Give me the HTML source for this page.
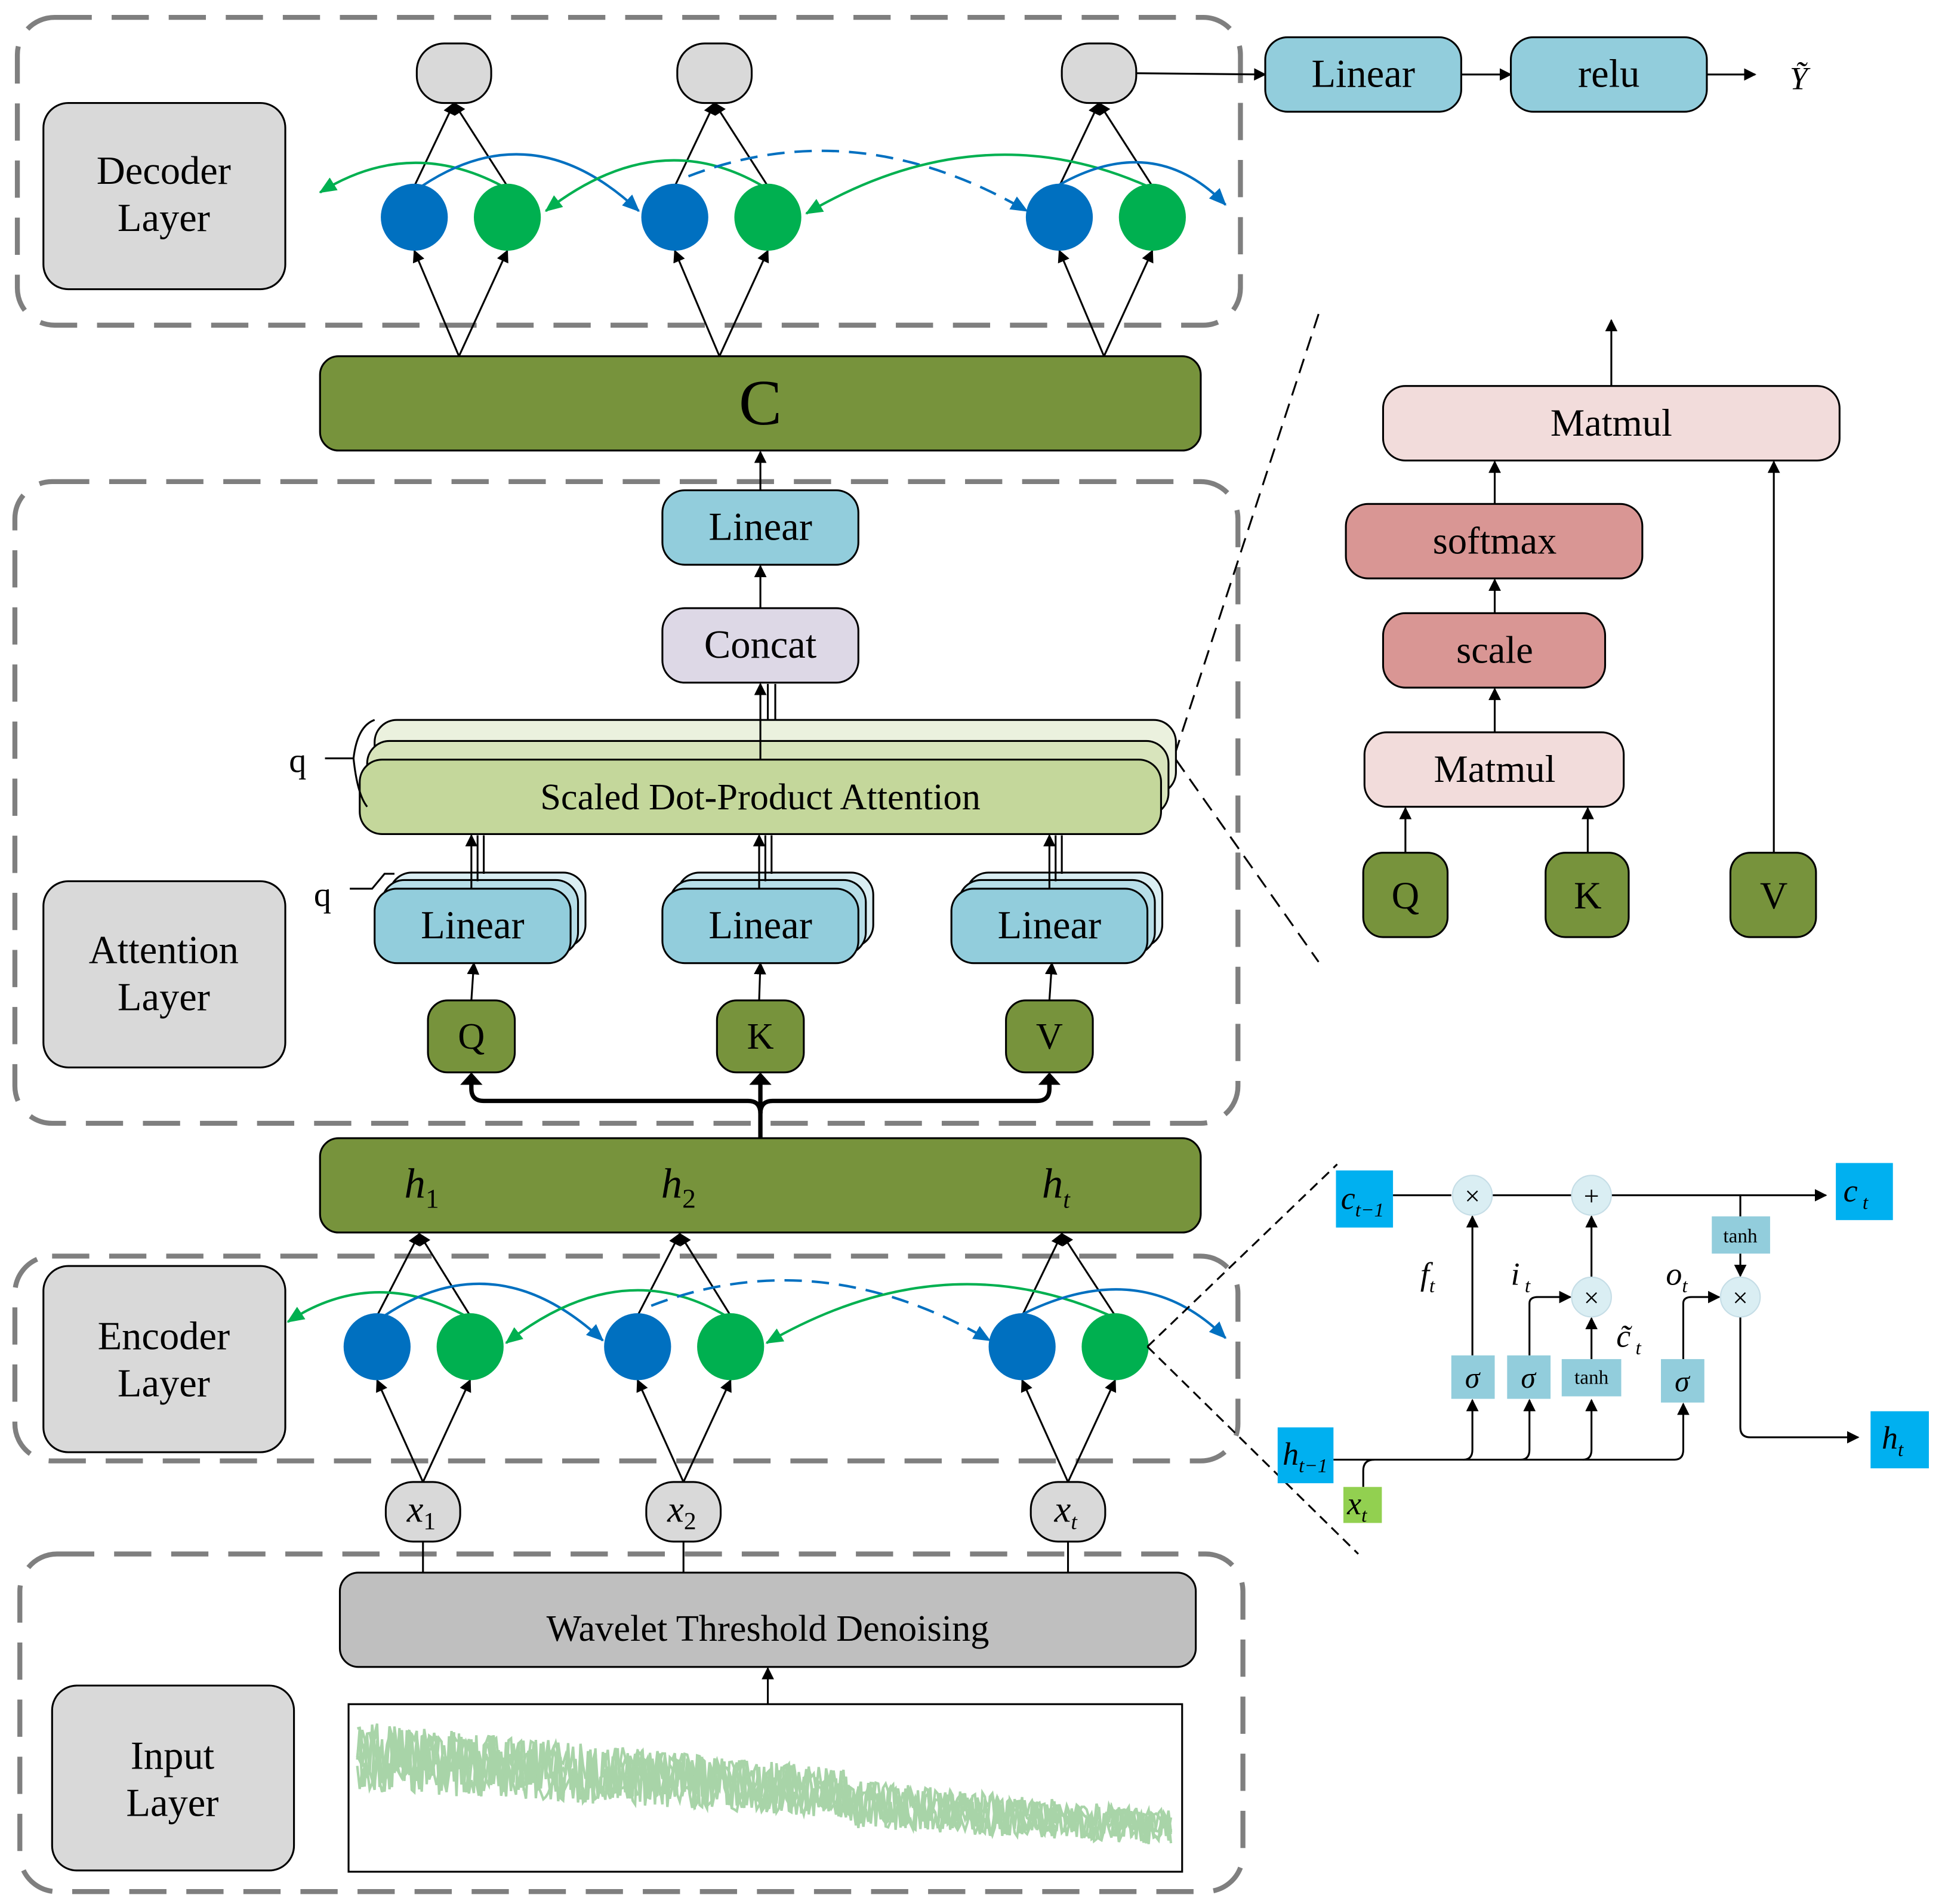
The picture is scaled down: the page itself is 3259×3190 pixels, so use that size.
<!DOCTYPE html>
<html><head><meta charset="utf-8"><style>
html,body{margin:0;padding:0;background:#fff}
svg{display:block}
text{font-family:"Liberation Serif",serif;fill:#000}
</style></head><body>
<svg id="s" width="3259" height="3190" viewBox="0 0 1568 1534" preserveAspectRatio="none" xmlns="http://www.w3.org/2000/svg">
<defs>
<marker id="a" markerWidth="10" markerHeight="10" refX="9" refY="5" orient="auto" markerUnits="userSpaceOnUse"><path d="M0,0 L10,5 L0,10 z" fill="#000"/></marker>
<marker id="ab" markerWidth="14" markerHeight="12" refX="13" refY="6" orient="auto" markerUnits="userSpaceOnUse"><path d="M0,0 L14,6 L0,12 z" fill="#0070c0"/></marker>
<marker id="ag" markerWidth="14" markerHeight="12" refX="13" refY="6" orient="auto" markerUnits="userSpaceOnUse"><path d="M0,0 L14,6 L0,12 z" fill="#00b050"/></marker>
</defs>
<g fill="none" stroke="#7f7f7f" stroke-width="4" stroke-dasharray="30,16">
<rect x="14" y="14" width="986" height="248" rx="30"/>
<rect x="12" y="388" width="986" height="517" rx="30"/>
<rect x="12" y="1012" width="986" height="165" rx="30"/>
<rect x="16" y="1252" width="986" height="272" rx="30"/>
</g>
<g stroke="#000" stroke-width="1.5">
<rect x="35" y="83" width="195" height="150" rx="20" fill="#d9d9d9"/>
<rect x="35" y="710" width="195" height="150" rx="20" fill="#d9d9d9"/>
<rect x="35" y="1020" width="195" height="150" rx="20" fill="#d9d9d9"/>
<rect x="42" y="1358" width="195" height="149" rx="20" fill="#d9d9d9"/>
</g>
<g font-size="32" text-anchor="middle">
<text x="132" y="148">Decoder</text><text x="132" y="186">Layer</text>
<text x="132" y="776">Attention</text><text x="132" y="814">Layer</text>
<text x="132" y="1087">Encoder</text><text x="132" y="1125">Layer</text>
<text x="139" y="1425">Input</text><text x="139" y="1463">Layer</text>
</g>
<g stroke="#000" stroke-width="1.5" marker-end="url(#a)">
<line x1="334" y1="150" x2="366" y2="83"/><line x1="409" y1="150" x2="366" y2="83"/>
<line x1="544" y1="150" x2="576" y2="83"/><line x1="619" y1="150" x2="576" y2="83"/>
<line x1="854" y1="150" x2="886" y2="83"/><line x1="929" y1="150" x2="886" y2="83"/>
<line x1="370" y1="287" x2="334" y2="202"/><line x1="370" y1="287" x2="409" y2="202"/>
<line x1="580" y1="287" x2="544" y2="202"/><line x1="580" y1="287" x2="619" y2="202"/>
<line x1="890" y1="287" x2="854" y2="202"/><line x1="890" y1="287" x2="929" y2="202"/>
</g>
<g stroke="#000" stroke-width="1.5" fill="#d9d9d9">
<rect x="336" y="35" width="60" height="48" rx="22"/><rect x="546" y="35" width="60" height="48" rx="22"/><rect x="856" y="35" width="60" height="48" rx="22"/>
</g>
<g fill="#0070c0"><circle cx="334" cy="175" r="27"/><circle cx="544" cy="175" r="27"/><circle cx="854" cy="175" r="27"/></g>
<g fill="#00b050"><circle cx="409" cy="175" r="27"/><circle cx="619" cy="175" r="27"/><circle cx="929" cy="175" r="27"/></g>
<g fill="none" stroke-width="2">
<path d="M405 150 Q330 110 258 155" stroke="#00b050" marker-end="url(#ag)"/>
<path d="M340 150 Q430 90 515 170" stroke="#0070c0" marker-end="url(#ab)"/>
<path d="M615 150 Q530 100 440 170" stroke="#00b050" marker-end="url(#ag)"/>
<path d="M555 142 Q690 90 828 170" stroke="#0070c0" stroke-dasharray="14,8" marker-end="url(#ab)"/>
<path d="M925 150 Q790 90 650 172" stroke="#00b050" marker-end="url(#ag)"/>
<path d="M852 150 Q930 105 988 165" stroke="#0070c0" marker-end="url(#ab)"/>
</g>
<line x1="916" y1="59" x2="1020" y2="60" stroke="#000" stroke-width="1.5" marker-end="url(#a)"/>
<rect x="1020" y="30" width="158" height="60" rx="18" fill="#92cddc" stroke="#000" stroke-width="1.5"/>
<text x="1099" y="70" font-size="32" text-anchor="middle">Linear</text>
<line x1="1178" y1="60" x2="1218" y2="60" stroke="#000" stroke-width="1.5" marker-end="url(#a)"/>
<rect x="1218" y="30" width="158" height="60" rx="18" fill="#92cddc" stroke="#000" stroke-width="1.5"/>
<text x="1297" y="70" font-size="32" text-anchor="middle">relu</text>
<line x1="1376" y1="60" x2="1415" y2="60" stroke="#000" stroke-width="1.5" marker-end="url(#a)"/>
<text x="1450" y="72" font-size="26" font-style="italic" text-anchor="middle">Ỹ</text>
<rect x="258" y="287" width="710" height="76" rx="15" fill="#77933c" stroke="#000" stroke-width="1.5"/>
<text x="613" y="342" font-size="52" text-anchor="middle">C</text>
<g stroke="#000" stroke-width="1.5" fill="none">
<line x1="613" y1="395" x2="613" y2="364" marker-end="url(#a)"/>
<line x1="613" y1="490" x2="613" y2="456" marker-end="url(#a)"/>
<line x1="613" y1="612" x2="613" y2="551" marker-end="url(#a)"/>
<line x1="619" y1="612" x2="619" y2="551"/><line x1="625" y1="597" x2="625" y2="551"/>
</g>
<rect x="534" y="395" width="158" height="60" rx="18" fill="#92cddc" stroke="#000" stroke-width="1.5"/>
<text x="613" y="435" font-size="32" text-anchor="middle">Linear</text>
<rect x="534" y="490" width="158" height="60" rx="18" fill="#ddd8e6" stroke="#000" stroke-width="1.5"/>
<text x="613" y="530" font-size="32" text-anchor="middle">Concat</text>
<g stroke="#000" stroke-width="1.5">
<rect x="302" y="580" width="646" height="60" rx="18" fill="#ebf1de"/>
<rect x="296" y="597" width="646" height="60" rx="18" fill="#d8e4bc"/>
<rect x="290" y="612" width="646" height="60" rx="18" fill="#c4d79b"/>
</g>
<line x1="613" y1="612" x2="613" y2="580" stroke="#000" stroke-width="1.5"/>
<text x="613" y="652" font-size="30" text-anchor="middle">Scaled Dot-Product Attention</text>
<text x="240" y="622" font-size="28" text-anchor="middle">q</text>
<path d="M262 611 L285 611 M302 580 Q288 585 285 611 Q288 640 296 650" stroke="#000" stroke-width="1.5" fill="none"/>
<text x="260" y="730" font-size="28" text-anchor="middle">q</text>
<path d="M282 716 L300 716 L310 704 L318 704" stroke="#000" stroke-width="1.5" fill="none"/>
<g stroke="#000" stroke-width="1.5">
<rect x="314" y="703" width="158" height="60" rx="18" fill="#daeef3"/><rect x="308" y="709" width="158" height="60" rx="18" fill="#b7dee8"/><rect x="302" y="716" width="158" height="60" rx="18" fill="#92cddc"/>
<rect x="546" y="703" width="158" height="60" rx="18" fill="#daeef3"/><rect x="540" y="709" width="158" height="60" rx="18" fill="#b7dee8"/><rect x="534" y="716" width="158" height="60" rx="18" fill="#92cddc"/>
<rect x="779" y="703" width="158" height="60" rx="18" fill="#daeef3"/><rect x="773" y="709" width="158" height="60" rx="18" fill="#b7dee8"/><rect x="767" y="716" width="158" height="60" rx="18" fill="#92cddc"/>
</g>
<g font-size="32" text-anchor="middle"><text x="381" y="756">Linear</text><text x="613" y="756">Linear</text><text x="846" y="756">Linear</text></g>
<g stroke="#000" stroke-width="1.5" fill="none">
<line x1="380" y1="716" x2="380" y2="673" marker-end="url(#a)"/><line x1="385" y1="710" x2="385" y2="673"/><line x1="390" y1="704" x2="390" y2="673"/>
<line x1="612" y1="716" x2="612" y2="673" marker-end="url(#a)"/><line x1="617" y1="710" x2="617" y2="673"/><line x1="622" y1="704" x2="622" y2="673"/>
<line x1="846" y1="716" x2="846" y2="673" marker-end="url(#a)"/><line x1="851" y1="710" x2="851" y2="673"/><line x1="856" y1="704" x2="856" y2="673"/>
<line x1="380" y1="806" x2="382" y2="776" marker-end="url(#a)"/>
<line x1="612" y1="806" x2="613" y2="776" marker-end="url(#a)"/>
<line x1="846" y1="806" x2="848" y2="776" marker-end="url(#a)"/>
</g>
<g stroke="#000" stroke-width="1.5" fill="#77933c">
<rect x="345" y="806" width="70" height="58" rx="16"/><rect x="578" y="806" width="70" height="58" rx="16"/><rect x="811" y="806" width="70" height="58" rx="16"/>
</g>
<g font-size="30" text-anchor="middle"><text x="380" y="845">Q</text><text x="613" y="845">K</text><text x="846" y="845">V</text></g>
<g stroke="#000" stroke-width="3.5" fill="none">
<path d="M613 917 L613 897 Q613 887 603 887 L390 887 Q380 887 380 877 L380 870"/>
<path d="M613 897 Q613 887 623 887 L836 887 Q846 887 846 877 L846 870"/>
<line x1="613" y1="897" x2="613" y2="870"/>
</g>
<g fill="#000"><path d="M371 874 L380 864 L389 874z"/><path d="M604 874 L613 864 L622 874z"/><path d="M837 874 L846 864 L855 874z"/></g>
<rect x="258" y="917" width="710" height="76" rx="15" fill="#77933c" stroke="#000" stroke-width="1.5"/>
<g font-size="34" font-style="italic"><text x="326" y="965">h<tspan font-size="22" dy="8" font-style="normal">1</tspan></text><text x="533" y="965">h<tspan font-size="22" dy="8" font-style="normal">2</tspan></text><text x="840" y="965">h<tspan font-size="20" dy="8">t</tspan></text></g>
<g stroke="#000" stroke-width="1.5" marker-end="url(#a)">
<line x1="304" y1="1060" x2="338" y2="994"/><line x1="379" y1="1060" x2="338" y2="994"/>
<line x1="514" y1="1060" x2="548" y2="994"/><line x1="589" y1="1060" x2="548" y2="994"/>
<line x1="824" y1="1060" x2="856" y2="994"/><line x1="899" y1="1060" x2="856" y2="994"/>
<line x1="341" y1="1194" x2="304" y2="1112"/><line x1="341" y1="1194" x2="379" y2="1112"/>
<line x1="551" y1="1194" x2="514" y2="1112"/><line x1="551" y1="1194" x2="589" y2="1112"/>
<line x1="861" y1="1194" x2="824" y2="1112"/><line x1="861" y1="1194" x2="899" y2="1112"/>
</g>
<g fill="#0070c0"><circle cx="304" cy="1085" r="27"/><circle cx="514" cy="1085" r="27"/><circle cx="824" cy="1085" r="27"/></g>
<g fill="#00b050"><circle cx="379" cy="1085" r="27"/><circle cx="589" cy="1085" r="27"/><circle cx="899" cy="1085" r="27"/></g>
<g fill="none" stroke-width="2">
<path d="M375 1060 Q300 1020 232 1065" stroke="#00b050" marker-end="url(#ag)"/>
<path d="M310 1060 Q400 1000 486 1080" stroke="#0070c0" marker-end="url(#ab)"/>
<path d="M585 1060 Q500 1010 408 1082" stroke="#00b050" marker-end="url(#ag)"/>
<path d="M525 1052 Q660 1000 798 1080" stroke="#0070c0" stroke-dasharray="14,8" marker-end="url(#ab)"/>
<path d="M895 1060 Q760 1000 618 1082" stroke="#00b050" marker-end="url(#ag)"/>
<path d="M822 1060 Q920 1010 988 1078" stroke="#0070c0" marker-end="url(#ab)"/>
</g>
<g stroke="#000" stroke-width="1.5">
<line x1="341" y1="1242" x2="341" y2="1267"/><line x1="551" y1="1242" x2="551" y2="1267"/><line x1="861" y1="1242" x2="861" y2="1267"/>
</g>
<g stroke="#000" stroke-width="1.5" fill="#d9d9d9">
<rect x="311" y="1194" width="60" height="48" rx="22"/><rect x="521" y="1194" width="60" height="48" rx="22"/><rect x="831" y="1194" width="60" height="48" rx="22"/>
</g>
<g font-size="30" font-style="italic"><text x="328" y="1226">x<tspan font-size="20" dy="6" font-style="normal">1</tspan></text><text x="538" y="1226">x<tspan font-size="20" dy="6" font-style="normal">2</tspan></text><text x="850" y="1226">x<tspan font-size="18" dy="6">t</tspan></text></g>
<rect x="274" y="1267" width="690" height="76" rx="15" fill="#bfbfbf" stroke="#000" stroke-width="1.5"/>
<text x="619" y="1322" font-size="30" text-anchor="middle">Wavelet Threshold Denoising</text>
<line x1="619" y1="1373" x2="619" y2="1344" stroke="#000" stroke-width="1.5" marker-end="url(#a)"/>
<rect x="281" y="1373" width="672" height="135" fill="#fff" stroke="#000" stroke-width="1.5"/>
<g id="sig" fill="none" stroke="#6fb86f" stroke-width="2" opacity="0.6"></g>
<g stroke="#000" stroke-width="1.5" fill="none">
<line x1="1063" y1="253" x2="948" y2="605" stroke-dasharray="12,7"/>
<line x1="948" y1="612" x2="1063" y2="775" stroke-dasharray="12,7"/>
<line x1="1299" y1="311" x2="1299" y2="258" marker-end="url(#a)"/>
<line x1="1205" y1="406" x2="1205" y2="372" marker-end="url(#a)"/>
<line x1="1205" y1="494" x2="1205" y2="467" marker-end="url(#a)"/>
<line x1="1205" y1="590" x2="1205" y2="555" marker-end="url(#a)"/>
<line x1="1133" y1="687" x2="1133" y2="651" marker-end="url(#a)"/>
<line x1="1280" y1="687" x2="1280" y2="651" marker-end="url(#a)"/>
<line x1="1430" y1="687" x2="1430" y2="372" marker-end="url(#a)"/>
</g>
<g stroke="#000" stroke-width="1.5">
<rect x="1115" y="311" width="368" height="60" rx="18" fill="#f2dcdb"/>
<rect x="1085" y="406" width="239" height="60" rx="18" fill="#d99694"/>
<rect x="1115" y="494" width="179" height="60" rx="18" fill="#d99694"/>
<rect x="1100" y="590" width="209" height="60" rx="18" fill="#f2dcdb"/>
<rect x="1099" y="687" width="68" height="68" rx="16" fill="#77933c"/>
<rect x="1246" y="687" width="67" height="68" rx="16" fill="#77933c"/>
<rect x="1395" y="687" width="69" height="68" rx="16" fill="#77933c"/>
</g>
<g font-size="31" text-anchor="middle">
<text x="1299" y="351">Matmul</text><text x="1205" y="446">softmax</text><text x="1205" y="534">scale</text><text x="1205" y="630">Matmul</text>
<text x="1133" y="732">Q</text><text x="1280" y="732">K</text><text x="1430" y="732">V</text>
</g>
<g stroke="#000" stroke-width="1.5" fill="none">
<line x1="925" y1="1085" x2="1078" y2="938" stroke-dasharray="8,5"/>
<line x1="925" y1="1085" x2="1095" y2="1252" stroke-dasharray="8,5"/>
<line x1="1123" y1="963" x2="1170" y2="963"/>
<line x1="1203" y1="963" x2="1267" y2="963"/>
<line x1="1299" y1="963" x2="1472" y2="963" marker-end="url(#a)"/>
<line x1="1187" y1="1092" x2="1187" y2="980" marker-end="url(#a)"/>
<line x1="1283" y1="1029" x2="1283" y2="980" marker-end="url(#a)"/>
<line x1="1283" y1="1095" x2="1283" y2="1062" marker-end="url(#a)"/>
<path d="M1233 1092 L1233 1050 Q1233 1045 1240 1045 L1266 1045" marker-end="url(#a)"/>
<path d="M1357 1095 L1357 1050 Q1357 1045 1364 1045 L1386 1045" marker-end="url(#a)"/>
<line x1="1403" y1="963" x2="1403" y2="980"/>
<line x1="1403" y1="1010" x2="1403" y2="1028" marker-end="url(#a)"/>
<path d="M1403 1061 L1403 1150 Q1403 1158 1411 1158 L1498 1158" marker-end="url(#a)"/>
<path d="M1075 1176 L1350 1176 Q1357 1176 1357 1168 L1357 1131" marker-end="url(#a)"/>
<path d="M1180 1176 Q1187 1176 1187 1168 L1187 1128" marker-end="url(#a)"/>
<path d="M1226 1176 Q1233 1176 1233 1168 L1233 1128" marker-end="url(#a)"/>
<path d="M1276 1176 Q1283 1176 1283 1168 L1283 1128" marker-end="url(#a)"/>
<path d="M1099 1198 L1099 1185 Q1099 1176 1108 1176"/>
</g>
<g fill="#daeef3" stroke="#c5dde6" stroke-width="1">
<circle cx="1187" cy="963" r="16"/><circle cx="1283" cy="963" r="16"/><circle cx="1283" cy="1045" r="16"/><circle cx="1403" cy="1045" r="16"/>
</g>
<g font-size="22" text-anchor="middle" font-family="DejaVu Sans"><text x="1187" y="971">×</text><text x="1283" y="971">+</text><text x="1283" y="1053">×</text><text x="1403" y="1053">×</text></g>
<g fill="#92cddc">
<rect x="1170" y="1092" width="35" height="35"/><rect x="1215" y="1092" width="35" height="35"/><rect x="1259" y="1095" width="48" height="30"/><rect x="1339" y="1095" width="35" height="35"/><rect x="1380" y="980" width="47" height="30"/>
</g>
<g font-size="24" font-style="italic" text-anchor="middle"><text x="1187" y="1118">σ</text><text x="1232" y="1118">σ</text><text x="1356" y="1121">σ</text></g>
<g font-size="16" text-anchor="middle" font-family="Liberation Sans"><text x="1283" y="1115">tanh</text><text x="1403" y="1001">tanh</text></g>
<g fill="#00b0f0"><rect x="1077" y="943" width="46" height="46"/><rect x="1480" y="937" width="46" height="46"/><rect x="1030" y="1150" width="45" height="45"/><rect x="1508" y="1137" width="47" height="46"/></g>
<rect x="1083" y="1198" width="31" height="29" fill="#92d050"/>
<g font-size="26" font-style="italic">
<text x="1081" y="974">c<tspan font-size="16" dy="6">t</tspan><tspan font-size="16">−1</tspan></text>
<text x="1486" y="968">c<tspan font-size="16" dy="6"> t</tspan></text>
<text x="1034" y="1180">h<tspan font-size="16" dy="6">t</tspan><tspan font-size="16">−1</tspan></text>
<text x="1517" y="1167">h<tspan font-size="16" dy="6">t</tspan></text>
<text x="1086" y="1220">x<tspan font-size="16" dy="6">t</tspan></text>
<text x="1145" y="1035">f<tspan font-size="16" dy="6">t</tspan></text>
<text x="1218" y="1035">i<tspan font-size="16" dy="6"> t</tspan></text>
<text x="1343" y="1035">o<tspan font-size="16" dy="6">t</tspan></text>
<text x="1303" y="1085">c̃<tspan font-size="16" dy="6"> t</tspan></text>
</g>
</svg>
<script>
(function(){var g=document.getElementById('sig');var s=7;function r(){s=(s*9301+49297)%233280;return s/233280;}
for(var k=0;k<5;k++){var p=[];for(var x=288;x<=945;x+=2){var t=(x-288)/657;var base=1415+t*50+(t>0.6?8:0);var amp=28*(1-t*0.5);var y=base+(r()-0.5)*amp*2;p.push(x+','+y.toFixed(1));}
var pl=document.createElementNS('http://www.w3.org/2000/svg','polyline');pl.setAttribute('points',p.join(' '));g.appendChild(pl);}})();
</script>
</body></html>
